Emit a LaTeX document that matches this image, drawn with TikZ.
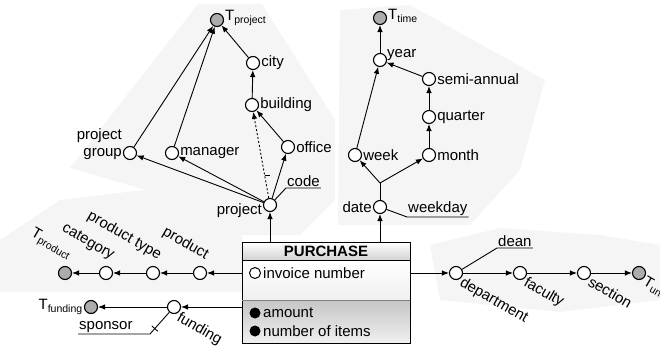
\documentclass[tikz,border=0pt]{standalone}
\usepackage{fontspec}
\setmainfont{Liberation Sans}
\usetikzlibrary{arrows.meta,calc}
\begin{document}
\begin{tikzpicture}[x=1pt,y=-1pt,
  every node/.style={font=\fontsize{15}{17}\selectfont},
  attr/.style={circle,draw,line width=1.1pt,fill=white,minimum size=13pt,inner sep=0pt},
  dimn/.style={attr,fill=gray!65},
  arr/.style={line width=0.9pt,-{Latex[length=7pt,width=5.5pt]}},
  ln/.style={line width=0.9pt},
  lab/.style={inner sep=1pt},
  slant/.style={inner sep=1pt,rotate=-30},
  bg/.style={fill=gray!8}
]
\useasboundingbox (0,0) rectangle (660,353);
% background areas
\fill[bg] (70,168) -- (198,4) -- (262,4) -- (335,120) -- (335,200) -- (300,235) -- (240,235) -- (180,200) -- cycle;
\fill[bg] (338,225) -- (340,10) -- (410,5) -- (545,80) -- (520,170) -- (470,225) -- cycle;
\fill[bg] (0,240) -- (60,200) -- (160,188) -- (242,205) -- (242,292) -- (0,292) -- cycle;
\fill[bg] (430,245) -- (500,228) -- (600,235) -- (660,245) -- (660,300) -- (560,312) -- (440,300) -- cycle;

% fact box
\shade[top color=white,bottom color=gray!35] (242,242) rectangle (410,260);
\shade[top color=white,bottom color=gray!12] (242,260) rectangle (410,300);
\shade[top color=gray!45,bottom color=gray!12] (242,300) rectangle (410,343);
\node[draw,line width=1pt,minimum width=168pt,minimum height=101pt,inner sep=0pt] (fact) at (326,292.5) {};
\draw[line width=1pt] (242,260) -- (410,260);
\draw[gray,line width=0.5pt] (242,300) -- (410,300);
\node[font=\bfseries\fontsize{15}{17}\selectfont] (title) at (326,251) {PURCHASE};
\node[circle,draw,line width=1pt,minimum size=11pt,inner sep=0pt,fill=white] (invc) at (255,273) {};
\node[lab,anchor=west] (inv) at (262,273) {invoice number};
\node[circle,fill=black,minimum size=11pt,inner sep=0pt] (amtc) at (255,313) {};
\node[lab,anchor=west] (amt) at (262,313) {amount};
\node[circle,fill=black,minimum size=11pt,inner sep=0pt] (noic) at (255,331) {};
\node[lab,anchor=west] (noi) at (262,331) {number of items};

% project hierarchy
\node[dimn] (tproj) at (217,20) {};
\node[lab,anchor=west] (tprojl) at (224,18) {T\textsubscript{project}};
\node[attr] (city) at (253,63) {};
\node[lab,anchor=west] (cityl) at (city.east) {city};
\node[attr] (bldg) at (252,105) {};
\node[lab,anchor=west] (bldgl) at (bldg.east) {building};
\node[attr] (office) at (288,147) {};
\node[lab,anchor=west] (officel) at (office.east) {office};
\node[attr] (pgroup) at (130,153) {};
\node[lab,anchor=south east,align=right] (pgroupl) at (123,161) {project\\group};
\node[attr] (mgr) at (172,153) {};
\node[lab,anchor=west] (mgrl) at (mgr.east) {manager};
\node[attr] (proj) at (270,205) {};
\node[lab,anchor=east] (projl) at (263,211) {project};
\node[lab,anchor=south west] (code) at (286,188) {code};
\draw[ln] (proj) -- (code.south west) -- (code.south east);
\draw[arr] (proj) -- (pgroup);
\draw[arr] (proj) -- (mgr);
\draw[arr] (proj) -- (office);
\draw[arr,dash pattern=on 2pt off 2pt] (proj) -- (bldg);
\coordinate (tk) at ($(proj)!0.3!(bldg)$);
\draw[ln] (tk) -- ++(5,0);
\draw[arr] (office) -- (bldg);
\draw[arr] (bldg) -- (city);
\draw[arr] (city) -- (tproj);
\draw[arr] (pgroup) -- (tproj);
\draw[arr] (mgr) -- (tproj);

% time hierarchy
\node[dimn] (ttime) at (380,18) {};
\node[lab,anchor=west] (ttimel) at (387,16) {T\textsubscript{time}};
\node[attr] (year) at (380,60) {};
\node[lab,anchor=west] (yearl) at (386,55) {year};
\node[attr] (semi) at (429,79) {};
\node[lab,anchor=west] (semil) at (semi.east) {semi-annual};
\node[attr] (quarter) at (429,117) {};
\node[lab,anchor=west] (quarterl) at (quarter.east) {quarter};
\node[attr] (month) at (429,155) {};
\node[lab,anchor=west] (monthl) at (month.east) {month};
\node[attr] (week) at (355,155) {};
\node[lab,anchor=west] (weekl) at (week.east) {week};
\node[attr] (date) at (380,207) {};
\node[lab,anchor=east] (datel) at (date.west) {date};
\coordinate (dbr) at (380,183);
\node[lab,anchor=south west] (wday) at (407,217) {weekday};
\draw[ln] (date) -- (wday.south west) -- (wday.south east);
\draw[ln] (date) -- (dbr);
\draw[arr] (dbr) -- (week);
\draw[arr] (dbr) -- (month);
\draw[arr] (week) -- (year);
\draw[arr] (month) -- (quarter);
\draw[arr] (quarter) -- (semi);
\draw[arr] (semi) -- (year);
\draw[arr] (year) -- (ttime);

% product hierarchy
\node[attr] (prod) at (200,273) {};
\node[attr] (ptype) at (153,273) {};
\node[attr] (cat) at (106,273) {};
\node[dimn] (tprod) at (65,273) {};
\node[slant,anchor=south east] (prodl) at ($(prod)+(4,-9)$) {product};
\node[slant,anchor=south east] (ptypel) at ($(ptype)+(4,-9)$) {product type};
\node[slant,anchor=south east] (catl) at ($(cat)+(4,-9)$) {category};
\node[slant,anchor=south east] (tprodl) at ($(tprod)+(2,-9)$) {T\textsubscript{product}};
\draw[arr] (prod) -- (ptype);
\draw[arr] (ptype) -- (cat);
\draw[arr] (cat) -- (tprod);

% funding
\node[attr] (fund) at (174,307) {};
\node[slant,anchor=north west] (fundl) at (181,309) {funding};
\node[dimn] (tfund) at (91,307) {};
\node[lab,anchor=east] (tfundl) at (tfund.west) {T\textsubscript{funding}};
\draw[arr] (fund) -- (tfund);
\node[lab,anchor=south west] (spons) at (78,334) {sponsor};
\coordinate (spc) at (150,334);
\draw[ln] (fund) -- (spc) -- (spons.south west);
\coordinate (tk2) at ($(fund)!0.8!(spc)$);
\draw[ln] ($(tk2)+(-3,-2.7)$) -- ($(tk2)+(3,2.7)$);

% department hierarchy
\node[attr] (dept) at (456,273) {};
\node[attr] (fac) at (520,273) {};
\node[attr] (sec) at (584,273) {};
\node[dimn] (tuni) at (639,273) {};
\node[slant,anchor=north west] (deptl) at ($(dept)+(8,1)$) {department};
\node[slant,anchor=north west] (facl) at ($(fac)+(8,1)$) {faculty};
\node[slant,anchor=north west] (secl) at ($(sec)+(8,1)$) {section};
\node[slant,anchor=north west] (tunil) at ($(tuni)+(8,1)$) {T\textsubscript{university}};
\node[lab,anchor=south west] (dean) at (497,248) {dean};
\draw[ln] (dept) -- (dean.south west) -- (dean.south east);
\draw[arr] (dept) -- (fac);
\draw[arr] (fac) -- (sec);
\draw[arr] (sec) -- (tuni);

% links from the fact
\draw[arr] (fact.north -| proj) -- (proj);
\draw[arr] (fact.north -| date) -- (date);
\draw[arr] (fact.west |- prod) -- (prod);
\draw[arr] (fact.west |- fund) -- (fund);
\draw[arr] (fact.east |- dept) -- (dept);
\end{tikzpicture}
\end{document}
